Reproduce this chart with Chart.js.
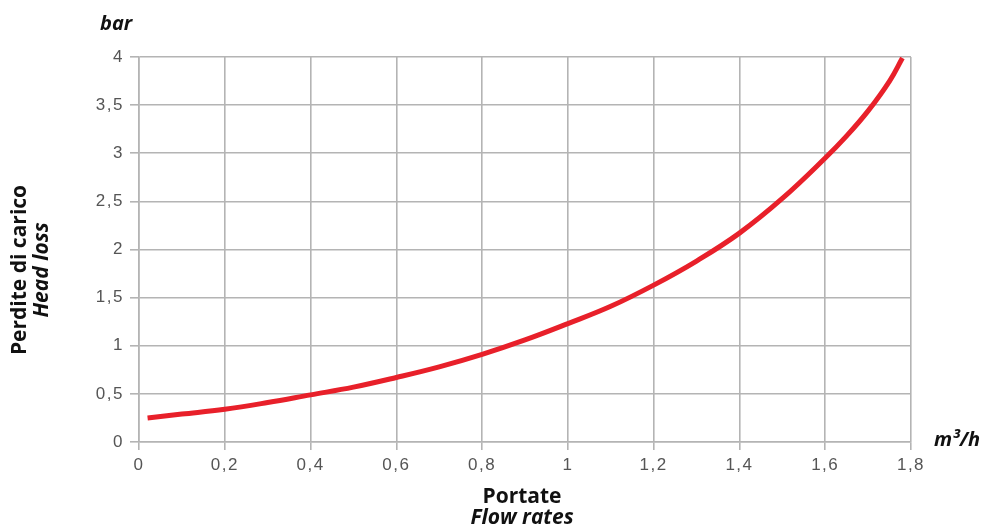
<!DOCTYPE html>
<html><head><meta charset="utf-8">
<script src="https://cdn.jsdelivr.net/npm/chart.js@4/dist/chart.umd.min.js"></script>
<style>html,body{margin:0;padding:0;background:#fff}#wrap{width:990px;height:530px}</style>
</head><body><div id="wrap"><canvas id="c" width="990" height="530"></canvas></div>
<script>
const flowRates = [0.02, 0.1, 0.2, 0.3, 0.4, 0.5, 0.6, 0.7, 0.8, 0.9, 1.0, 1.1, 1.2, 1.3, 1.4, 1.5, 1.6, 1.65, 1.7, 1.75, 1.78];
const headLoss  = [0.25, 0.29, 0.34, 0.41, 0.49, 0.57, 0.67, 0.78, 0.91, 1.06, 1.23, 1.41, 1.63, 1.88, 2.17, 2.53, 2.95, 3.18, 3.44, 3.75, 3.99];
const xTicks = [0,0.2,0.4,0.6,0.8,1,1.2,1.4,1.6,1.8];
const yTicks = [0,0.5,1,1.5,2,2.5,3,3.5,4];
const texts = {yUnit:'bar', xUnit:'m³/h', xTitle1:'Portate', xTitle2:'Flow rates', yTitle1:'Perdite di carico', yTitle2:'Head loss'};

const fmt = v => (Math.round(v*10)/10).toString().replace('.', ',');
const TF = '"Open Sans", "Noto Sans", sans-serif';

const spacingPlugin = {
  id:'spacing',
  beforeDraw(chart){ chart.ctx.letterSpacing = '1.5px'; }
};
const labelsPlugin = {
  id:'labels',
  afterDraw(chart){
    const ctx = chart.ctx;
    ctx.save();
    ctx.letterSpacing = '0px';
    ctx.fillStyle = '#111';
    ctx.textBaseline = 'middle';
    ctx.textAlign = 'left';
    ctx.font = 'italic 700 20px ' + TF;
    ctx.fillText(texts.yUnit, 100, 24);
    ctx.fillText(texts.xUnit, 934, 440);
    ctx.textAlign = 'center';
    ctx.font = '700 21px ' + TF;
    ctx.fillText(texts.xTitle1, 522, 497);
    ctx.font = 'italic 700 21px ' + TF;
    ctx.fillText(texts.xTitle2, 522, 518);
    ctx.translate(20, 270);
    ctx.rotate(-Math.PI/2);
    ctx.font = '700 21px ' + TF;
    ctx.fillText(texts.yTitle1, 0, 0);
    ctx.font = 'italic 700 21px ' + TF;
    ctx.fillText(texts.yTitle2, 0, 22);
    ctx.restore();
  }
};

const tickFont = {family:'"Liberation Sans", Arial, sans-serif', size:17};

new Chart(document.getElementById('c'), {
  type:'line',
  data:{ datasets:[{
    data: flowRates.map((x,i)=>({x, y: headLoss[i]})),
    borderColor:'#e8202a', borderWidth:5, pointRadius:0, fill:false,
    tension:0.4, borderCapStyle:'butt'
  }]},
  options:{
    responsive:false, animation:false,
    layout:{padding:{left:0, right:79, top:57, bottom:0}},
    plugins:{legend:{display:false}, tooltip:{enabled:false}},
    scales:{
      x:{ type:'linear', min:0, max:1.8,
        afterBuildTicks: s => { s.ticks = xTicks.map(v=>({value:v})); },
        afterFit: s => { s.height = 88; },
        grid:{color:'#b4b4b4', lineWidth:1.6, tickLength:8, drawTicks:true},
        border:{color:'#b4b4b4', width:1.6},
        ticks:{ callback: v => fmt(v), color:'#555', font:tickFont, padding:5, maxRotation:0 }
      },
      y:{ type:'linear', min:0, max:4,
        afterBuildTicks: s => { s.ticks = yTicks.map(v=>({value:v})); },
        afterFit: s => { s.width = 139; },
        grid:{color:'#b4b4b4', lineWidth:1.6, tickLength:9, drawTicks:true},
        border:{color:'#b4b4b4', width:1.6},
        ticks:{ callback: v => fmt(v), color:'#555', font:tickFont, padding:6 }
      }
    }
  },
  plugins:[spacingPlugin, labelsPlugin]
});
</script></body></html>
